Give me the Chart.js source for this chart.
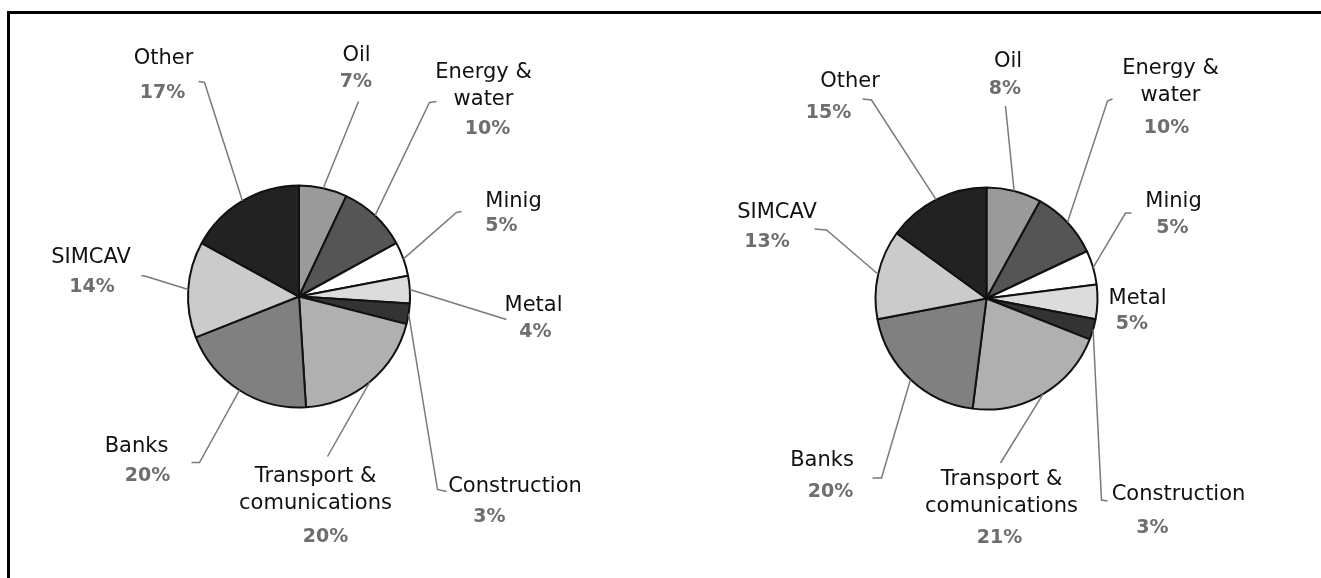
<!DOCTYPE html>
<html>
<head>
<meta charset="utf-8">
<script src="https://cdn.jsdelivr.net/npm/chart.js@4.4.1/dist/chart.umd.min.js"></script>
<style>
  html, body { margin: 0; padding: 0; background: #fff; overflow: hidden; }
  body { width: 1321px; height: 578px; position: relative; }
  canvas { position: absolute; left: 0; top: 0; }
  #frame { position: absolute; left: 7px; top: 11px; width: 1330px; height: 600px; border: 3px solid #000; box-sizing: border-box; }
</style>
</head>
<body>
<div id="frame"></div>
<canvas id="c1" width="1321" height="578"></canvas>
<canvas id="c2" width="1321" height="578"></canvas>
<script>
// ---- Data ----
const categories = ['Oil', 'Energy & water', 'Minig', 'Metal', 'Construction',
  'Transport & comunications', 'Banks', 'SIMCAV', 'Other'];
const labelLines = [['Oil'], ['Energy &', 'water'], ['Minig'], ['Metal'], ['Construction'],
  ['Transport &', 'comunications'], ['Banks'], ['SIMCAV'], ['Other']];
const valuesLeft  = [7, 10, 5, 4, 3, 20, 20, 14, 17];
const valuesRight = [8, 10, 5, 5, 3, 21, 20, 13, 15];

// ---- Styles ----
const sliceColors = ['#9a9a9a', '#555555', '#ffffff', '#dcdcdc', '#333333',
  '#b0b0b0', '#808080', '#cbcbcb', '#222222'];

// label layout, offsets relative to pie centre: name, pct, leader end, tick end
const layoutLeft = [
  { n: [57.5, -241], p: [57, -214], e: [59.5, -195] },
  { n: [184.5, -224], p: [188.5, -167], e: [130.5, -194], t: [137.5, -195] },
  { n: [214.5, -95], p: [202.5, -70], e: [157.5, -84], t: [162.5, -85] },
  { n: [234.5, 9], p: [236.5, 36], e: [207.5, 23] },
  { n: [216, 190], p: [190.5, 221], e: [138.5, 193], t: [147.5, 195] },
  { n: [16.5, 180], p: [26.5, 241], e: [28.5, 160] },
  { n: [-162.5, 150], p: [-151.5, 180], e: [-99.5, 166], t: [-107.5, 166] },
  { n: [-208, -39], p: [-207, -9], e: [-152.5, -20], t: [-157.5, -21] },
  { n: [-135.5, -237.5], p: [-136.5, -203], e: [-94.5, -214], t: [-100.5, -215] }
];
const layoutRight = [
  { n: [21.5, -236.5], p: [18.5, -209.5], e: [19, -192.5] },
  { n: [184, -229.5], p: [180, -170.5], e: [121, -197.5], t: [126, -199.5] },
  { n: [187, -96.5], p: [186, -70.5], e: [139, -85.5], t: [145, -85.5] },
  { n: [151, 0.5], p: [145.5, 25.5] },
  { n: [192, 196.5], p: [166, 229.5], e: [115, 201.5], t: [121, 202.5] },
  { n: [15, 181.5], p: [13, 239.5], e: [14, 164.5] },
  { n: [-164.5, 162.5], p: [-156, 193.5], e: [-105, 179.5], t: [-114, 179.5] },
  { n: [-209.5, -85.5], p: [-219.5, -56.5], e: [-160, -68.5], t: [-172, -69.5] },
  { n: [-136.5, -216.5], p: [-158, -185.5], e: [-115, -198.5], t: [-124, -199.5] }
];

const pieLabels = {
  id: 'pieLabels',
  afterDraw(chart, args, opts) {
    const ctx = chart.ctx;
    const meta = chart.getDatasetMeta(0);
    const values = chart.data.datasets[0].data;
    ctx.save();
    meta.data.forEach((arc, i) => {
      const p = arc.getProps(['x', 'y', 'startAngle', 'endAngle', 'outerRadius'], true);
      const L = opts.layout[i];
      const cx = p.x, cy = p.y;
      const mid = (p.startAngle + p.endAngle) / 2;
      // leader line
      if (L.e) {
        ctx.strokeStyle = '#7a7a7a';
        ctx.lineWidth = 1.5;
        ctx.beginPath();
        ctx.moveTo(cx + Math.cos(mid) * p.outerRadius, cy + Math.sin(mid) * p.outerRadius);
        ctx.lineTo(cx + L.e[0], cy + L.e[1]);
        if (L.t) ctx.lineTo(cx + L.t[0], cy + L.t[1]);
        ctx.stroke();
      }
      ctx.textAlign = 'center';
      ctx.textBaseline = 'middle';
      ctx.fillStyle = '#111';
      ctx.font = '21px "DejaVu Sans", Verdana, sans-serif';
      chart.data.labelLines[i].forEach((line, k) => {
        ctx.fillText(line, cx + L.n[0], cy + L.n[1] + k * 27);
      });
      ctx.fillStyle = '#6e6e6e';
      ctx.font = 'bold 19px "DejaVu Sans", Verdana, sans-serif';
      ctx.fillText(values[i] + '%', cx + L.p[0], cy + L.p[1]);
    });
    ctx.restore();
  }
};

function makePie(id, values, layout, padding, radius) {
  return new Chart(document.getElementById(id), {
    type: 'pie',
    data: {
      labels: categories,
      labelLines: labelLines,
      datasets: [{
        data: values,
        backgroundColor: sliceColors,
        borderColor: '#111',
        borderWidth: 2
      }]
    },
    options: {
      responsive: false,
      animation: false,
      radius: radius,
      layout: { padding: padding },
      plugins: {
        legend: { display: false },
        tooltip: { enabled: false },
        pieLabels: { layout: layout }
      }
    },
    plugins: [pieLabels]
  });
}

// left pie centre ~ (299, 296.5), right pie centre ~ (986.5, 298.5)
makePie('c1', valuesLeft, layoutLeft, { left: 0, right: 1321 - 598, top: 15, bottom: 0 }, 111);
makePie('c2', valuesRight, layoutRight, { left: 1321 - 2 * (1321 - 986.5), right: 0, top: 19, bottom: 0 }, 111);
</script>
</body>
</html>
